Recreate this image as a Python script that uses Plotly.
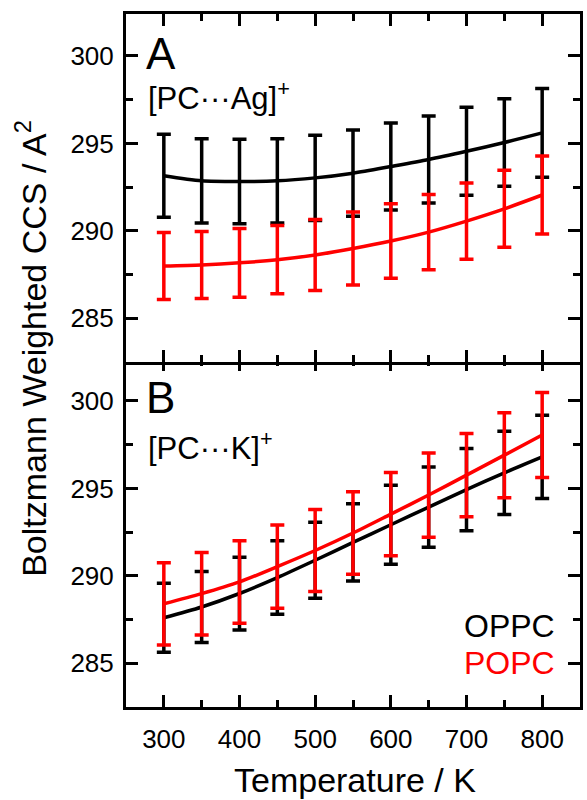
import plotly.graph_objects as go

temps = [300, 350, 400, 450, 500, 550, 600, 650, 700, 750, 800]

# Panel A: [PC...Ag]+
a_oppc = [293.15, 292.86, 292.82, 292.86, 293.03, 293.30, 293.68, 294.08, 294.55, 295.05, 295.60]
a_oppc_err = [2.37, 2.41, 2.42, 2.41, 2.44, 2.46, 2.49, 2.49, 2.52, 2.50, 2.54]
a_popc = [287.99, 288.05, 288.17, 288.35, 288.62, 288.99, 289.42, 289.93, 290.56, 291.26, 292.05]
a_popc_err = [1.91, 1.92, 1.96, 1.95, 2.03, 2.09, 2.13, 2.15, 2.18, 2.20, 2.23]

# Panel B: [PC...K]+
b_oppc = [287.60, 288.22, 288.99, 289.90, 290.89, 291.91, 292.92, 293.93, 294.93, 295.89, 296.80]
b_oppc_err = [1.97, 2.03, 2.08, 2.10, 2.17, 2.21, 2.26, 2.30, 2.35, 2.38, 2.38]
b_popc = [288.40, 288.98, 289.65, 290.53, 291.45, 292.45, 293.53, 294.62, 295.76, 296.90, 298.05]
b_popc_err = [2.35, 2.36, 2.36, 2.38, 2.35, 2.36, 2.38, 2.41, 2.38, 2.43, 2.43]

x_ticks = [300, 400, 500, 600, 700, 800]
y_ticks = [285, 290, 295, 300]

FONT = "Liberation Sans, Arial, sans-serif"
BLACK = "#000000"
RED = "#ff0000"

fig = go.Figure()

def add_series(x, y, err, color, xa, ya):
    fig.add_trace(go.Scatter(
        x=x, y=y, xaxis=xa, yaxis=ya, mode="lines",
        line=dict(color=color, width=3.5, shape="spline", smoothing=0.8),
        error_y=dict(type="data", array=err, visible=True, color=color,
                     thickness=3.5, width=7),
        showlegend=False, hoverinfo="skip"))

add_series(temps, a_oppc, a_oppc_err, BLACK, "x2", "y2")
add_series(temps, a_popc, a_popc_err, RED, "x2", "y2")
add_series(temps, b_oppc, b_oppc_err, BLACK, "x", "y")
add_series(temps, b_popc, b_popc_err, RED, "x", "y")

axis_common = dict(
    showline=True, linecolor="black", linewidth=3, mirror="allticks",
    ticks="inside", ticklen=12, tickwidth=2.5, tickcolor="black",
    showgrid=False, zeroline=False,
    tickfont=dict(family=FONT, size=26, color="black"),
)

SPLIT_LO = 0.4978
SPLIT_HI = 0.5022

fig.update_layout(
    width=587, height=800,
    margin=dict(l=125.5, r=3.5, t=13.5, b=92.5),
    paper_bgcolor="white", plot_bgcolor="white",
    font=dict(family=FONT, color="black"),
    xaxis=dict(**axis_common, range=[250, 850], anchor="y", domain=[0, 1],
               tickvals=x_ticks, ticklabelstandoff=7,
               minor=dict(ticks="inside", ticklen=7, tickwidth=2.5,
                          tickcolor="black", dtick=50, tick0=250)),
    xaxis2=dict(**axis_common, range=[250, 850], anchor="y2", domain=[0, 1],
                matches="x", tickvals=x_ticks, showticklabels=False,
                minor=dict(ticks="inside", ticklen=7, tickwidth=2.5,
                           tickcolor="black", dtick=50, tick0=250)),
    yaxis=dict(**axis_common, range=[282.5, 302.4], domain=[0, SPLIT_HI],
               anchor="x", tickvals=y_ticks, ticklabelstandoff=4,
               minor=dict(ticks="inside", ticklen=7, tickwidth=2.5,
                          tickcolor="black", dtick=2.5, tick0=280)),
    yaxis2=dict(**axis_common, range=[282.5, 302.4], domain=[SPLIT_LO, 1],
                anchor="x2", tickvals=y_ticks, ticklabelstandoff=4,
                minor=dict(ticks="inside", ticklen=7, tickwidth=2.5,
                           tickcolor="black", dtick=2.5, tick0=280)),
)

def ann(text, x, y, size, color="black", xanchor="left", yanchor="middle", angle=0):
    fig.add_annotation(text=text, x=x, y=y, xref="paper", yref="paper",
                       showarrow=False, xanchor=xanchor, yanchor=yanchor,
                       textangle=angle,
                       font=dict(family=FONT, size=size, color=color))

ann("A", 0.040, 0.943, 44)
ann("[PC···Ag]<sup>+</sup>", 0.044, 0.881, 31)
ann("B", 0.040, 0.447, 44)
ann("[PC···K]<sup>+</sup>", 0.044, 0.376, 31)
ann("OPPC", 0.949, 0.117, 32, BLACK, xanchor="right")
ann("POPC", 0.949, 0.064, 32, RED, xanchor="right")
ann("Boltzmann Weighted CCS / A<sup>2</sup>", -0.209, 0.517, 34,
    xanchor="center", angle=-90)
ann("Temperature / K", 0.505, -0.105, 34, xanchor="center")

fig.write_html("out.html", config={"displayModeBar": False},
               post_script="document.body.style.margin='0';document.body.style.overflow='hidden';")
